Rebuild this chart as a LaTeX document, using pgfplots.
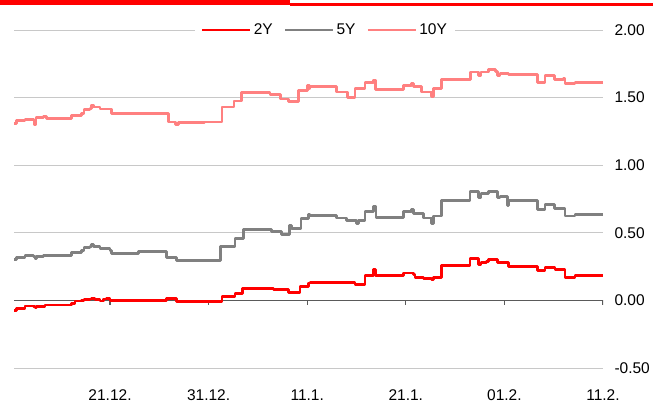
\documentclass[border=0pt]{standalone}
\usepackage{fontspec}
\setmainfont{Liberation Sans}
\usepackage{pgfplots}
\pgfplotsset{compat=1.18}
\definecolor{c2y}{HTML}{FF0000}
\definecolor{c5y}{HTML}{808080}
\definecolor{c10y}{HTML}{FF8080}
\definecolor{gridc}{HTML}{C8C8C8}
\definecolor{zeroc}{HTML}{5A5A5A}
\newcommand{\lblfont}{\fontsize{15.5}{18}\selectfont}
\begin{document}
\begin{tikzpicture}[x=1pt,y=1pt]
\useasboundingbox (0,0) rectangle (653,416);
\fill[c2y] (0,411.3) rectangle (290,416);
\fill[c2y] (290,410.3) rectangle (653,412.7);
\begin{axis}[
  at={(14pt,48pt)}, anchor=south west,
  width=589pt, height=338pt, scale only axis,
  xmin=0.26, xmax=60, ymin=-0.5, ymax=2.0,
  axis line style={draw=none},
  xtick={10,20,30,40,50,60},
  xticklabels={21.12.,31.12.,11.1.,21.1.,01.2.,11.2.},
  xtick style={draw=none},
  xticklabel style={font=\lblfont, yshift=-18pt},
  ytick={-0.5,0,0.5,1,1.5,2},
  yticklabel pos=right,
  ytick style={draw=none},
  yticklabel style={font=\lblfont, anchor=west, xshift=8pt,
    /pgf/number format/fixed, /pgf/number format/precision=2,
    /pgf/number format/fixed zerofill, /pgf/number format/assume math mode=true},
  ymajorgrids, grid style={gridc, line width=1pt},
  legend style={at={(rel axis cs:0.528,1)}, anchor=center, draw=none, fill=white,
    font=\lblfont, inner xsep=6pt, inner ysep=1pt,
    /tikz/every even column/.append style={column sep=9pt}},
  legend columns=3,
  legend image code/.code={\draw[#1] (0pt,0pt) -- (48pt,0pt);},
  every axis plot/.append style={line width=2.8pt, line join=round},
]
\draw[zeroc, line width=1.3pt] (axis cs:0.26,0) -- (axis cs:60,0);
\pgfplotsinvokeforeach{10,20,30,40,50,60}{\draw[zeroc, line width=1.2pt] (axis cs:#1,0) -- ([yshift=-4.5pt]axis cs:#1,0);}
% 2Y
\addplot[c2y, const plot] coordinates {
(0.26,-0.074) (0.54,-0.059) (1.38,-0.042) (2.22,-0.045) (2.39,-0.054) (2.57,-0.045)
(3.41,-0.034) (6.12,-0.020) (6.45,-0.005) (7.13,0.000) (7.36,0.005) (7.97,0.010)
(8.14,0.015) (8.48,0.005) (8.99,-0.005) (9.32,0.010) (9.67,0.015) (10.00,0.000)
(15.75,0.012) (16.76,-0.010) (21.36,0.030) (22.68,0.054) (23.42,0.089) (26.56,0.083)
(28.12,0.059) (29.27,0.103) (30.11,0.128) (30.28,0.133) (34.85,0.118) (35.86,0.187)
(36.70,0.226) (36.95,0.182) (39.75,0.202) (40.76,0.190) (40.93,0.172) (41.77,0.162)
(42.63,0.155) (42.79,0.172) (43.64,0.260) (46.51,0.310) (47.35,0.266) (47.63,0.280)
(48.20,0.290) (48.37,0.300) (49.32,0.283) (50.40,0.251) (53.34,0.221) (54.12,0.241)
(55.13,0.230) (56.15,0.172) (57.16,0.187) (60.00,0.187)
};
\addlegendentry{2Y}
% 5Y
\addplot[c5y, const plot] coordinates {
(0.26,0.303) (0.54,0.320) (1.38,0.330) (2.22,0.325) (2.39,0.310) (2.57,0.325)
(3.24,0.330) (3.58,0.334) (6.12,0.352) (7.13,0.369) (7.36,0.389) (7.97,0.400)
(8.14,0.413) (8.31,0.400) (8.99,0.381) (10.00,0.370) (10.17,0.349) (12.87,0.359)
(15.75,0.320) (16.76,0.295) (21.23,0.400) (22.68,0.458) (23.52,0.524) (26.40,0.511)
(27.41,0.487) (28.18,0.556) (28.43,0.531) (29.37,0.605) (30.11,0.635) (30.28,0.630)
(32.99,0.610) (34.01,0.590) (35.02,0.566) (35.18,0.590) (35.86,0.659) (36.70,0.694)
(36.98,0.615) (39.75,0.659) (40.60,0.670) (40.76,0.644) (41.77,0.610) (42.63,0.571)
(42.79,0.625) (43.64,0.738) (46.51,0.807) (47.35,0.762) (47.63,0.790) (48.37,0.807)
(49.32,0.762) (49.55,0.770) (50.33,0.700) (50.40,0.738) (53.34,0.674) (54.12,0.708)
(55.06,0.679) (56.15,0.625) (57.16,0.635) (60.00,0.635)
};
\addlegendentry{5Y}
% 10Y
\addplot[c10y, const plot] coordinates {
(0.26,1.311) (0.54,1.330) (1.38,1.340) (2.29,1.300) (2.49,1.350) (3.24,1.360)
(3.58,1.345) (6.12,1.370) (7.13,1.380) (7.36,1.410) (7.97,1.420) (8.14,1.445)
(8.31,1.430) (8.99,1.415) (10.17,1.380) (15.91,1.320) (16.66,1.300) (16.93,1.315)
(19.56,1.320) (21.36,1.430) (22.58,1.475) (23.36,1.537) (26.23,1.520) (27.31,1.490)
(28.12,1.470) (29.14,1.555) (30.01,1.590) (30.21,1.565) (30.28,1.580) (32.99,1.542)
(34.11,1.503) (34.85,1.567) (35.86,1.611) (36.70,1.630) (36.95,1.557) (39.75,1.592)
(40.60,1.605) (40.76,1.580) (41.61,1.542) (42.63,1.508) (42.79,1.567) (43.64,1.636)
(46.58,1.690) (47.35,1.666) (47.63,1.690) (48.37,1.710) (49.12,1.695) (49.32,1.666)
(49.55,1.680) (50.40,1.670) (53.34,1.611) (54.12,1.666) (55.06,1.631) (55.97,1.640)
(56.15,1.607) (57.16,1.611) (60.00,1.611)
};
\addlegendentry{10Y}
\end{axis}
\end{tikzpicture}
\end{document}
